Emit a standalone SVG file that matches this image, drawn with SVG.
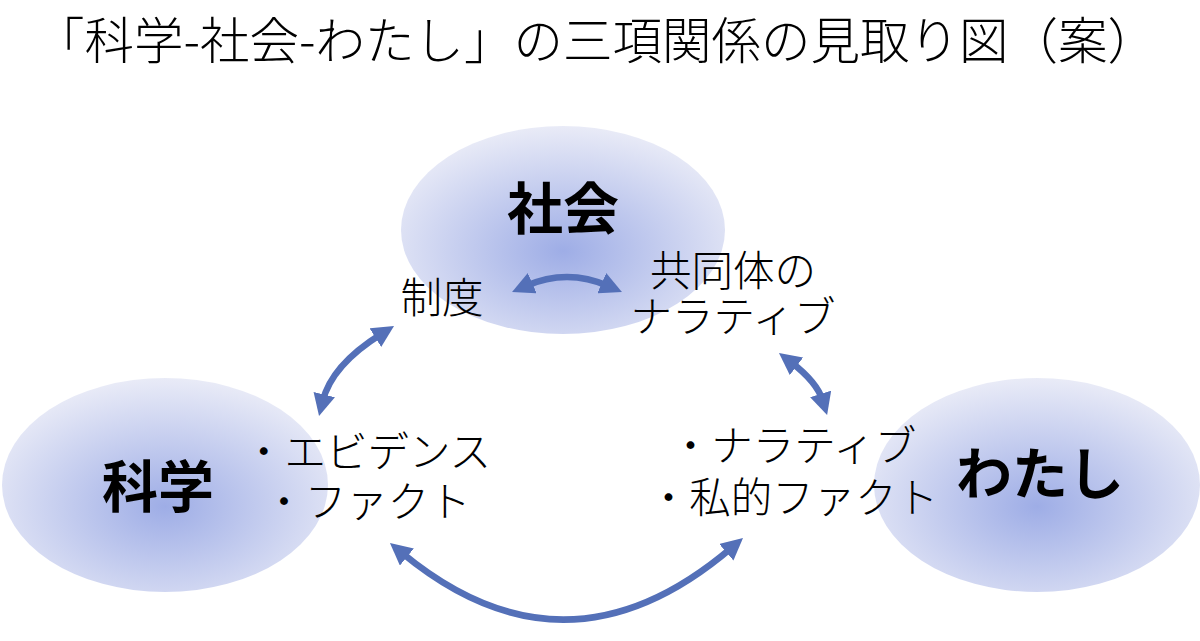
<svg xmlns="http://www.w3.org/2000/svg" width="1200" height="641" viewBox="0 0 1200 641">
<defs>
<radialGradient id="blob" cx="0.5" cy="0.6" r="0.6">
<stop offset="0" stop-color="#9eade6"/>
<stop offset="1" stop-color="#e9ebf7"/>
</radialGradient>
<marker id="ah" markerUnits="userSpaceOnUse" markerWidth="22" markerHeight="22" refX="7" refY="11" orient="auto-start-reverse">
<path d="M0,0 L22,11 L0,22 z" fill="#5470b8"/>
</marker>
</defs>
<style>
.t{font-family:"Noto Sans CJK JP","Noto Sans",sans-serif;fill:#000}
.title{font-size:49.5px;font-weight:300}
.lab{font-size:41.5px;font-weight:300}
.node{font-size:56px;font-weight:700}
.blob{fill:url(#blob)}
.arr{fill:none;stroke:#5470b8;stroke-width:6.5;marker-start:url(#ah);marker-end:url(#ah)}
</style>
<rect width="1200" height="641" fill="#fff"/>
<text class="t title" x="596" y="59" text-anchor="middle">「科学-社会-わたし」の三項関係の見取り図（案）</text>
<g id="node-shakai">
<ellipse class="blob" cx="563" cy="230" rx="162" ry="104"/>
<text class="t node" x="563" y="229" text-anchor="middle">社会</text>
</g>
<g id="node-kagaku">
<ellipse class="blob" cx="165" cy="485" rx="163" ry="107"/>
<text class="t node" x="158" y="507" text-anchor="middle">科学</text>
</g>
<g id="node-watashi">
<ellipse class="blob" cx="1037" cy="485" rx="163" ry="107"/>
<text class="t node" x="1040" y="494" text-anchor="middle">わたし</text>
</g>
<g id="label-seido"><text class="t lab" x="442" y="313" text-anchor="middle">制度</text></g>
<g id="label-kyodotai">
<text class="t lab" text-anchor="middle"><tspan x="733" y="286">共同体の</tspan><tspan x="733" y="332">ナラティブ</tspan></text>
</g>
<g id="label-evidence">
<text class="t lab" text-anchor="middle"><tspan x="367" y="467">・エビデンス</tspan><tspan x="367" y="517">・ファクト</tspan></text>
</g>
<g id="label-narrative">
<text class="t lab" text-anchor="middle"><tspan x="793" y="461">・ナラティブ</tspan><tspan x="793" y="513">・私的ファクト</tspan></text>
</g>
<g id="connectors">
<path class="arr" d="M525.8,286 Q567,268 608.2,286"/>
<path class="arr" d="M381.3,333.9 Q331.5,365 322.6,401.4"/>
<path class="arr" d="M790.9,362.1 Q817,382 822.7,400.6"/>
<path class="arr" d="M401.5,552.6 Q566,689 731.6,547.7"/>
</g>
</svg>
